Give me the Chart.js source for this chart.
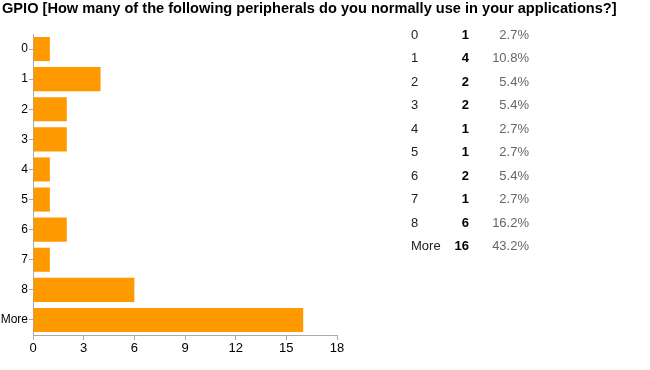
<!DOCTYPE html>
<html>
<head>
<meta charset="utf-8">
<script src="https://cdn.jsdelivr.net/npm/chart.js@4/dist/chart.umd.min.js"></script>
<style>
  html, body { margin: 0; padding: 0; background: #fff; }
  #wrap { position: relative; width: 650px; height: 370px; overflow: hidden; font-family: "Liberation Sans", Arial, sans-serif; }
  #title { position: absolute; left: 2px; top: 0px; font-size: 14.6px; font-weight: bold; color: #000; white-space: nowrap; line-height: 16px; }
  #chart { position: absolute; left: 0; top: 0; }
  .row { position: absolute; left: 0; height: 16px; line-height: 16px; font-size: 13px; white-space: nowrap; }
  .lab { position: absolute; left: 411px; color: #222; }
  .cnt { position: absolute; width: 40px; text-align: right; font-weight: bold; color: #000; }
  .pct { position: absolute; width: 60px; text-align: right; color: #666; }
</style>
</head>
<body>
<div id="wrap">
  <canvas id="chart" width="650" height="370"></canvas>
  <div id="title"></div>
  <div id="table"></div>
</div>
<script>
const titleText = "GPIO [How many of the following peripherals do you normally use in your applications?]";
const categories = ["0", "1", "2", "3", "4", "5", "6", "7", "8", "More"];
const counts = [1, 4, 2, 2, 1, 1, 2, 1, 6, 16];
const percents = ["2.7%", "10.8%", "5.4%", "5.4%", "2.7%", "2.7%", "5.4%", "2.7%", "16.2%", "43.2%"];
const xTicks = [0, 3, 6, 9, 12, 15, 18];

document.getElementById('title').textContent = titleText;

const table = document.getElementById('table');
categories.forEach((c, i) => {
  const row = document.createElement('div');
  row.className = 'row';
  row.style.top = (26.5 + i * 23.5) + 'px';
  row.style.width = '650px';
  const lab = document.createElement('span'); lab.className = 'lab'; lab.textContent = c;
  const cnt = document.createElement('span'); cnt.className = 'cnt'; cnt.textContent = counts[i];
  cnt.style.left = (469 - 40) + 'px';
  const pct = document.createElement('span'); pct.className = 'pct'; pct.textContent = percents[i];
  pct.style.left = (529 - 60) + 'px';
  row.appendChild(lab); row.appendChild(cnt); row.appendChild(pct);
  table.appendChild(row);
});

new Chart(document.getElementById('chart'), {
  type: 'bar',
  data: {
    labels: categories,
    datasets: [{
      data: counts,
      backgroundColor: '#FF9900',
      borderWidth: 0,
      barPercentage: 0.8,
      categoryPercentage: 1.0
    }]
  },
  options: {
    indexAxis: 'y',
    responsive: false,
    animation: false,
    events: [],
    layout: { padding: { top: 34, right: 313, bottom: 0, left: 0 } },
    plugins: { legend: { display: false }, tooltip: { enabled: false }, title: { display: false } },
    scales: {
      x: {
        min: 0, max: 18,
        afterBuildTicks: (s) => { s.ticks = xTicks.map(v => ({ value: v })); },
        afterFit: (s) => { s.height = 35; },
        grid: { display: true, drawOnChartArea: false, drawTicks: true, tickLength: 5, color: '#aaaaaa' },
        border: { display: true, color: '#aaaaaa', width: 1 },
        ticks: { color: '#000', font: { family: '"Liberation Sans", Arial, sans-serif', size: 13 }, padding: 1, maxRotation: 0 }
      },
      y: {
        afterFit: (s) => { s.width = 33; },
        grid: { display: true, offset: false, drawOnChartArea: false, drawTicks: true, tickLength: 4, color: '#aaaaaa' },
        border: { display: true, color: '#aaaaaa', width: 1 },
        ticks: { color: '#000', font: { family: '"Liberation Sans", Arial, sans-serif', size: 12 }, padding: 1, autoSkip: false }
      }
    }
  }
});
</script>
</body>
</html>
